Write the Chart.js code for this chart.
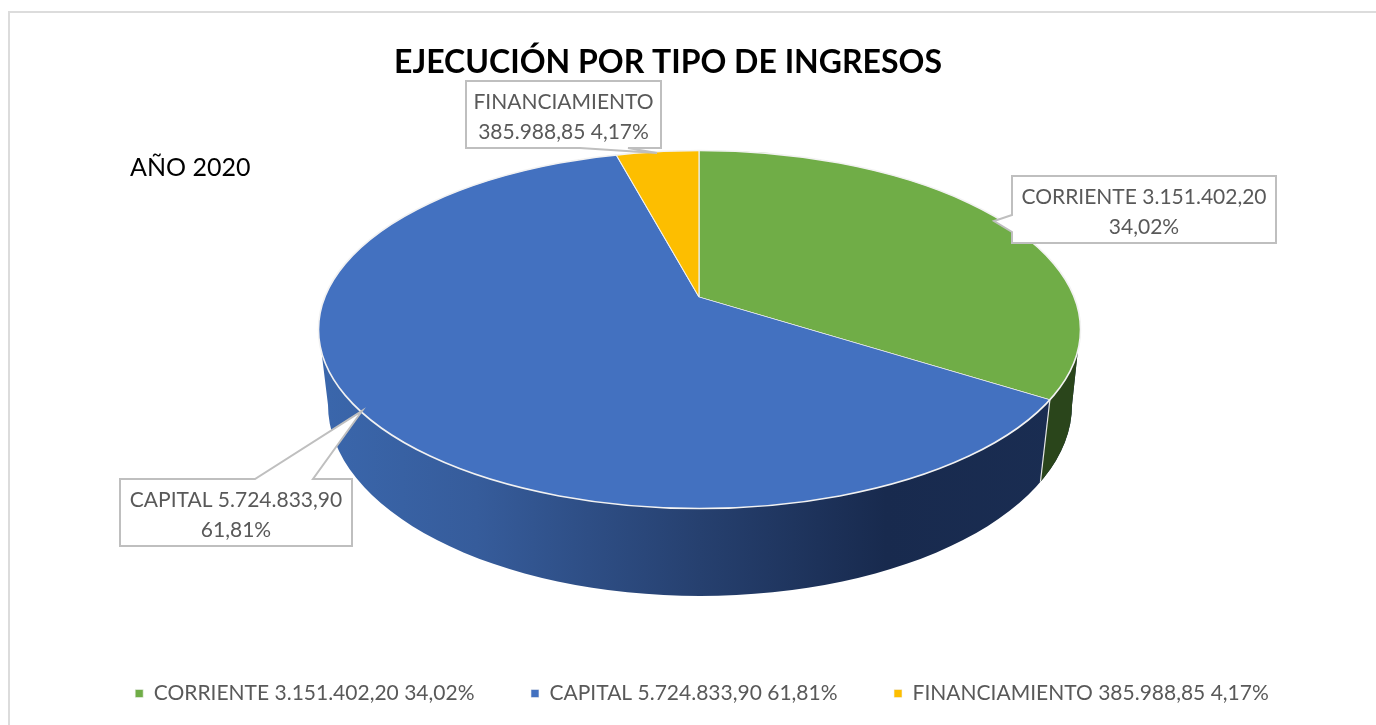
<!DOCTYPE html>
<html>
<head>
<meta charset="utf-8">
<title>Ejecución por tipo de ingresos</title>
<script src="https://cdn.jsdelivr.net/npm/chart.js@4"></script>
<style>
    html, body { margin: 0; padding: 0; background: #fff; overflow: hidden; }
    #frame { position: absolute; left: 8px; top: 11px; right: -10px; bottom: -10px; border: 2px solid #dcdcdc; }
    #ejecucion { position: absolute; left: 0; top: 0; display: block; }
</style>
</head>
<body>
<div id="frame"></div>
<canvas id="ejecucion" width="1376" height="725"></canvas>
<script>
const chartTitle = 'EJECUCIÓN POR TIPO DE INGRESOS';
const yearLabel = 'AÑO 2020';
const categories = ['CORRIENTE', 'CAPITAL', 'FINANCIAMIENTO'];
const values = [3151402.20, 5724833.90, 385988.85];
const valueLabels = ['3.151.402,20', '5.724.833,90', '385.988,85'];
const percentLabels = ['34,02%', '61,81%', '4,17%'];
const colors = ['#70ad47', '#4371c0', '#fdbe00'];

// callouts: text lines and box with its pointer
const callouts = [
    { lines: ['CORRIENTE 3.151.402,20', '34,02%'], box: [1012, 176, 1276, 243], pointer: [[1012, 215], [994, 221], [1012, 232]] },
    { lines: ['CAPITAL 5.724.833,90', '61,81%'], box: [120, 479, 352, 546], pointer: [[255, 479], [362, 411], [313, 479]] },
    { lines: ['FINANCIAMIENTO', '385.988,85 4,17%'], box: [466, 81, 661, 148], pointer: [[628, 148], [657, 153], [580, 148]] }
];

// pie look: top ellipse, apex of the slices and the lower ellipse of the wall
const top3d = { cx: 699.5, cy: 329.5, rx: 381, ry: 179 };
const low3d = { cx: 700, cy: 405, rx: 372, ry: 191 };
const apex = { x: 699, y: 297 };
const apexLowY = 382;
const squash = 0.46;
const reach = 500;

function rayToEllipse(ax, ay, dx, dy, e) {
    const ox = (ax - e.cx) / e.rx, oy = (ay - e.cy) / e.ry;
    const vx = dx / e.rx, vy = dy / e.ry;
    const a = vx * vx + vy * vy, b = 2 * (ox * vx + oy * vy), c = ox * ox + oy * oy - 1;
    const t = (-b + Math.sqrt(b * b - 4 * a * c)) / (2 * a);
    return { x: ax + dx * t, y: ay + dy * t };
}

function wallPath(ctx) {
    ctx.beginPath();
    ctx.moveTo(top3d.cx - top3d.rx + 1, top3d.cy + 6);
    ctx.lineTo(low3d.cx - low3d.rx, low3d.cy);
    ctx.ellipse(low3d.cx, low3d.cy, low3d.rx, low3d.ry, 0, Math.PI, 0, true);
    ctx.lineTo(top3d.cx + top3d.rx - 1, top3d.cy + 6);
    ctx.closePath();
}

// walks round the box and lets the pointer out on the side it belongs to
function drawCallout(ctx, c) {
    const [x0, y0, x1, y1] = c.box;
    const p = c.pointer;
    ctx.beginPath();
    ctx.moveTo(x0, y0);
    if (p[0][1] === y0) { p.forEach(pt => ctx.lineTo(pt[0], pt[1])); }
    ctx.lineTo(x1, y0);
    ctx.lineTo(x1, y1);
    if (p[0][1] === y1) { p.forEach(pt => ctx.lineTo(pt[0], pt[1])); }
    ctx.lineTo(x0, y1);
    if (p[0][0] === x0) { p.slice().reverse().forEach(pt => ctx.lineTo(pt[0], pt[1])); }
    ctx.closePath();
}

const pie3d = {
    id: 'pie3d',
    afterLayout(chart) {
        // title sits a bit left of the legend centre
        chart.titleBlock.left -= 34;
        chart.titleBlock.right -= 34;
    },
    beforeDatasetDraw(chart, args) {
        const ctx = chart.ctx;
        const arcs = args.meta.data;

        // side wall
        const angle = arcs[0].endAngle;
        const dx = Math.cos(angle), dy = Math.sin(angle) * squash;
        const p1 = rayToEllipse(apex.x, apex.y, dx, dy, top3d);
        const p2 = rayToEllipse(apex.x, apexLowY, dx, dy, low3d);

        ctx.save();
        const grad = ctx.createLinearGradient(low3d.cx - low3d.rx, 0, low3d.cx + low3d.rx, 0);
        grad.addColorStop(0, '#3a66ab');
        grad.addColorStop(0.2, '#365c9b');
        grad.addColorStop(0.5, '#26406f');
        grad.addColorStop(0.75, '#182a4e');
        grad.addColorStop(1, '#1a2d52');
        wallPath(ctx);
        ctx.fillStyle = grad;
        ctx.fill();
        wallPath(ctx);
        ctx.clip();
        const ex = p2.x - p1.x, ey = p2.y - p1.y;
        ctx.beginPath();
        ctx.moveTo(p1.x - ex, p1.y - ey);
        ctx.lineTo(p2.x + ex, p2.y + ey);
        ctx.lineTo(1376, p2.y + ey);
        ctx.lineTo(1376, p1.y - ey);
        ctx.closePath();
        ctx.fillStyle = '#2a451b';
        ctx.fill();
        ctx.beginPath();
        ctx.moveTo(p1.x, p1.y);
        ctx.lineTo(p2.x, p2.y);
        ctx.strokeStyle = '#e8e8e8';
        ctx.lineWidth = 1.2;
        ctx.stroke();
        ctx.restore();

        // slices are drawn by the library, squashed and cut to the top ellipse
        const arc = arcs[0];
        const k = reach / arc.outerRadius;
        ctx.save();
        ctx.beginPath();
        ctx.ellipse(top3d.cx, top3d.cy, top3d.rx, top3d.ry, 0, 0, Math.PI * 2);
        ctx.clip();
        ctx.translate(apex.x, apex.y);
        ctx.scale(k, k * squash);
        ctx.translate(-arc.x, -arc.y);
    },
    afterDatasetDraw(chart) {
        const ctx = chart.ctx;
        ctx.restore();

        // light rim round the top
        ctx.save();
        ctx.beginPath();
        ctx.ellipse(top3d.cx, top3d.cy, top3d.rx, top3d.ry, 0, 0, Math.PI * 2);
        ctx.strokeStyle = '#f2f2f2';
        ctx.lineWidth = 1.6;
        ctx.stroke();
        ctx.restore();

        // year text
        ctx.save();
        ctx.font = '25px Lato';
        ctx.fillStyle = '#000';
        ctx.textBaseline = 'alphabetic';
        ctx.fillText(yearLabel, 130, 176);
        ctx.restore();

        callouts.forEach(c => {
            const [x0, y0, x1] = c.box;
            ctx.save();
            drawCallout(ctx, c);
            ctx.fillStyle = '#fff';
            ctx.fill();
            ctx.strokeStyle = '#bfbfbf';
            ctx.lineWidth = 2;
            ctx.stroke();
            ctx.font = '21px Lato';
            ctx.fillStyle = '#595959';
            ctx.textAlign = 'center';
            ctx.textBaseline = 'alphabetic';
            ctx.fillText(c.lines[0], (x0 + x1) / 2, y0 + 28);
            ctx.fillText(c.lines[1], (x0 + x1) / 2, y0 + 58);
            ctx.restore();
        });
    }
};

new Chart(document.getElementById('ejecucion'), {
    type: 'pie',
    data: {
        labels: categories.map((c, i) => c + ' ' + valueLabels[i] + ' ' + percentLabels[i]),
        datasets: [{
            data: values,
            backgroundColor: colors,
            borderColor: '#f2f2f2',
            borderWidth: 0.6,
            clip: false
        }]
    },
    options: {
        responsive: false,
        animation: false,
        devicePixelRatio: 1,
        layout: { padding: { left: 28, bottom: 11 } },
        plugins: {
            tooltip: { enabled: false },
            title: {
                display: true,
                text: chartTitle,
                color: '#000',
                font: { family: 'Lato', size: 32, weight: 'bold' },
                padding: { top: 43, bottom: 10 }
            },
            legend: {
                position: 'bottom',
                labels: {
                    boxWidth: 8,
                    boxHeight: 8,
                    padding: 56.5,
                    color: '#595959',
                    font: { family: 'Lato', size: 21 }
                }
            }
        }
    },
    plugins: [pie3d]
});
</script>
</body>
</html>
